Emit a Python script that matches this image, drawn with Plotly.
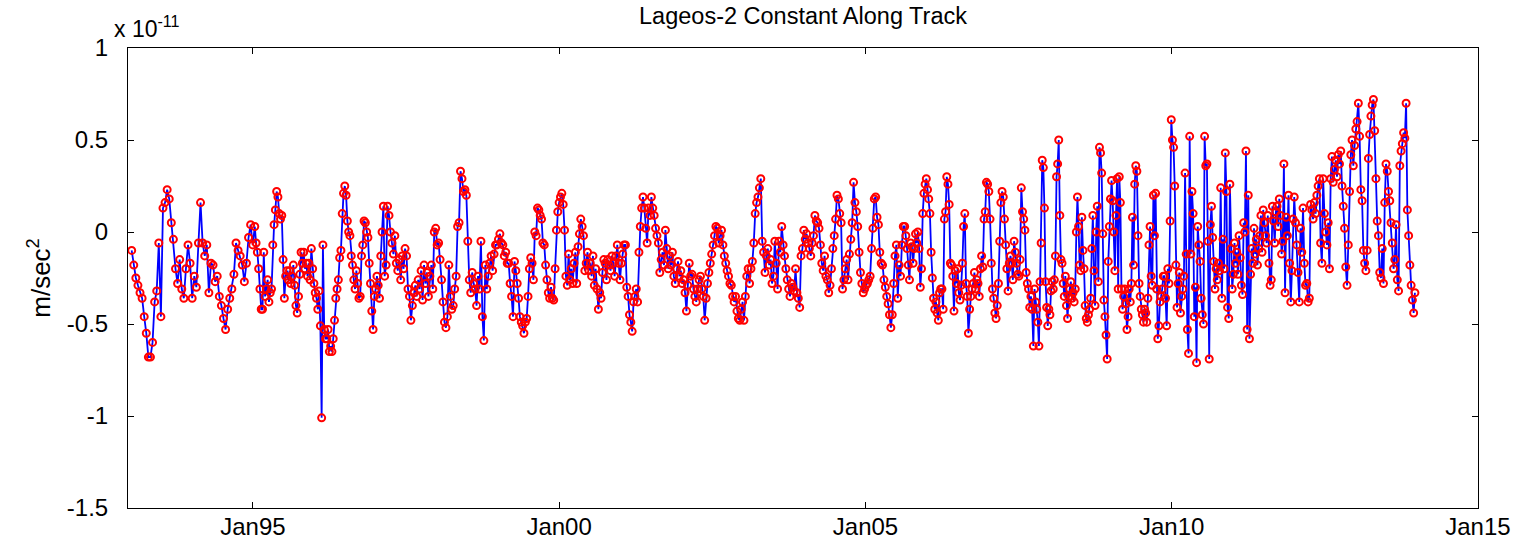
import pandas as pd
import plotly.graph_objects as go

# Segment edges (decimal years) and values (units of 1e-11 m/s^2)
segment_edges = [1993.02, 1995.03, 1997.15, 1999.27, 2001.39, 2003.52,
                 2005.64, 2007.76, 2009.88, 2012.00, 2013.97]

seg_1993 = [-0.10,-0.18,-0.25,-0.29,-0.33,-0.36,-0.46,-0.55,-0.68,-0.68,-0.60,-0.38,-0.32,-0.06,-0.46,
            0.13,0.16,0.23,
            0.18,0.05,-0.04,-0.20,-0.28,-0.15,-0.31,-0.36,-0.20,-0.07,-0.17,-0.36,-0.24,-0.30,-0.06,
            0.16,-0.06,-0.13,-0.07,-0.33,-0.17,-0.18,-0.27,-0.24,-0.35,-0.40,-0.47,-0.53,
            -0.42,-0.36,-0.31,-0.23,-0.06,-0.10,-0.13,-0.18,-0.27,-0.17,-0.03,0.04,-0.07]
seg_1995 = [0.03,-0.06,-0.11,-0.20,-0.31,-0.42,-0.42,-0.11,-0.35,-0.31,-0.26,-0.38,-0.33,-0.31,-0.07,0.04,
            0.12,0.22,0.19,0.10,0.07,0.09,-0.15,-0.36,-0.24,-0.21,-0.26,-0.21,-0.28,-0.24,-0.18,-0.29,-0.40,
            -0.44,-0.35,-0.23,-0.11,-0.17,-0.11,-0.20,-0.17,-0.24,-0.17,-0.26,-0.09,-0.20,-0.28,-0.33,-0.36,
            -0.42,-0.32,-0.51,-1.01,-0.07,-0.53,-0.58,-0.58,-0.53,-0.65,-0.62,-0.65,-0.58,-0.48,-0.36,-0.31,
            -0.26,-0.14,-0.10,0.10,0.21,0.25,0.20,0.06,0.00,-0.02,-0.13,-0.18,-0.26,-0.31,-0.21,-0.28,-0.36,
            -0.35,-0.13,-0.07,0.06,0.05,0.00,-0.03,-0.17,-0.28,-0.43,-0.53,-0.35,-0.31,-0.24,-0.29,-0.36,
            -0.13,0.00,0.14]
seg_1997 = [-0.24,-0.18,0.14,0.09,0.00,-0.06,-0.12,-0.02,-0.17,-0.21,-0.15,-0.26,-0.13,-0.20,-0.09,-0.13,
            -0.31,-0.35,-0.48,-0.40,-0.33,-0.29,-0.35,-0.26,-0.31,-0.21,-0.37,-0.18,-0.28,-0.22,-0.35,-0.24,
            -0.18,-0.31,0.00,0.02,-0.07,-0.06,-0.15,-0.26,-0.38,-0.49,-0.52,-0.46,-0.18,-0.35,-0.42,-0.40,
            -0.31,-0.24,0.03,0.05,0.33,0.29,0.22,0.23,0.20,-0.05,-0.26,-0.33,-0.22,-0.28,-0.31,-0.40,-0.24,
            -0.31,-0.05,-0.46,-0.59,-0.18,-0.31,-0.24,-0.17,-0.13,-0.21,-0.12,-0.07,-0.07,-0.04,-0.01,-0.06,
            -0.07,-0.13,-0.11,-0.17,-0.17,-0.28,-0.35,-0.46]
seg_1999 = [-0.16,-0.21,-0.28,-0.36,-0.46,-0.49,-0.51,-0.55,-0.49,-0.47,-0.35,-0.20,-0.14,-0.17,-0.26,0.00,
            -0.02,0.13,0.12,0.09,0.07,-0.06,-0.07,-0.18,-0.26,-0.33,-0.36,-0.30,-0.36,-0.37,-0.20,0.01,0.11,
            0.16,0.19,0.21,0.15,0.01,-0.24,-0.29,-0.12,-0.26,-0.20,-0.28,-0.17,-0.11,-0.28,-0.08,-0.01,0.07,
            0.03,-0.02,-0.21,-0.17,-0.11,-0.21,-0.17,-0.24,-0.13,-0.29,-0.20,-0.31,-0.42,-0.33,-0.36,-0.22,
            -0.15,-0.17,-0.26,-0.15,-0.18,-0.21,-0.13,-0.17,-0.24,-0.13,-0.07,-0.17,-0.26,-0.17,-0.12,-0.07,
            -0.07,-0.30,-0.35,-0.45,-0.49,-0.54,-0.38,-0.35,-0.31,-0.38,-0.11,0.03,0.13,0.19]
seg_2001 = [0.13,0.02,-0.06,0.13,0.09,0.19,0.13,0.09,0.02,-0.02,-0.06,-0.22,-0.15,-0.11,-0.18,0.01,-0.09,
            -0.20,-0.13,-0.18,-0.11,-0.24,-0.28,-0.20,-0.16,-0.24,-0.21,-0.28,-0.26,-0.33,-0.43,-0.29,-0.17,
            -0.24,-0.23,-0.31,-0.35,-0.38,-0.31,-0.26,-0.24,-0.31,-0.35,-0.48,-0.36,-0.28,-0.22,-0.17,-0.12,
            -0.07,-0.02,0.03,0.02,-0.06,-0.02,0.01,-0.07,-0.13,-0.17,-0.21,-0.24,-0.28,-0.29,-0.35,-0.38,
            -0.35,-0.43,-0.47,-0.48,-0.42,-0.38,-0.48,-0.35,-0.24,-0.20,-0.28,-0.20,-0.16,-0.06,0.10,0.16,
            0.19,0.24,0.29,-0.05,-0.11,-0.22,-0.13,-0.09,-0.18,-0.15,-0.28,-0.24]
seg_2003 = [-0.05,-0.17,-0.31,-0.05,-0.11,0.03,-0.07,-0.13,-0.20,-0.26,-0.31,-0.35,-0.28,-0.30,-0.32,-0.20,
            -0.33,-0.36,-0.41,-0.13,-0.09,0.01,-0.04,-0.01,-0.06,-0.09,-0.13,-0.06,-0.02,0.09,0.06,0.05,0.02,
            -0.07,-0.17,-0.21,-0.13,-0.24,-0.26,-0.33,-0.29,-0.20,-0.09,-0.02,0.07,0.20,0.18,0.10,0.05,-0.31,
            -0.26,-0.20,-0.15,-0.26,-0.12,-0.04,0.05,0.27,0.16,0.11,0.03,-0.11,-0.22,-0.28,-0.33,-0.31,-0.29,
            -0.28,-0.26,-0.24,-0.09,0.02,0.18,0.19,0.08,0.04,-0.11,-0.17,-0.18,-0.26,-0.30,-0.35,-0.39,-0.45,
            -0.52,-0.45,-0.28,-0.13,-0.07,-0.36,-0.18,-0.24,-0.07,0.03]
seg_2005 = [0.03,-0.02,-0.09,-0.18,-0.26,-0.06,-0.08,-0.17,-0.09,-0.01,-0.06,0.00,-0.09,-0.30,-0.20,0.10,
            0.21,0.26,0.29,0.23,0.18,0.10,-0.11,-0.25,-0.36,-0.42,-0.38,-0.44,-0.48,-0.33,-0.31,-0.31,-0.42,
            0.07,0.11,0.30,0.26,0.15,-0.17,-0.18,-0.24,-0.43,-0.21,-0.28,-0.20,-0.33,-0.37,-0.29,-0.17,0.03,
            0.10,-0.28,-0.35,-0.55,-0.42,-0.35,-0.31,-0.28,-0.22,-0.31,-0.26,-0.28,-0.35,-0.20,-0.13,-0.19,
            0.07,0.11,0.27,0.26,0.22,0.07,-0.17,-0.31,-0.36,-0.44,-0.47,-0.40,-0.28,-0.05,0.16,0.22,0.19,0.07,
            -0.07,-0.20,-0.32,-0.17,-0.13,-0.17,-0.26,-0.05,-0.11,-0.17,-0.23,-0.24,-0.15,0.24,0.11,0.07,0.01,
            -0.22,-0.28,-0.31,-0.41,-0.35,-0.42,-0.62]
seg_2007 = [-0.31,-0.38,-0.42,-0.49,-0.62,-0.27,-0.06,0.39,0.35,0.13,-0.27,-0.41,-0.51,-0.42,-0.45,-0.32,
            -0.27,-0.31,-0.26,-0.13,0.30,0.37,0.50,0.09,-0.15,-0.17,-0.28,-0.35,-0.24,-0.40,-0.47,-0.35,-0.31,
            -0.27,-0.36,-0.33,-0.38,-0.31,0.00,0.19,0.03,-0.18,-0.21,0.08,-0.10,-0.20,-0.40,-0.47,-0.49,-0.45,
            -0.42,-0.36,-0.09,0.09,-0.21,-0.40,0.00,0.14,-0.27,0.46,0.43,0.32,-0.01,-0.37,-0.46,-0.56,-0.69,
            -0.16,0.03,0.18,0.28,0.17,0.00,-0.21,0.09,0.29,-0.31,0.30,0.16,-0.31,-0.42,-0.35,-0.31,-0.39,-0.53,
            -0.46,-0.31,-0.38,-0.28,0.08,-0.18,0.26,0.36,0.33,-0.02,-0.28,-0.35,-0.42,-0.45,-0.49,-0.42,-0.44,
            -0.49,-0.36,-0.07,0.03,-0.24,-0.29,0.20,-0.02,0.21,-0.31,-0.58,-0.51,-0.38,-0.35,-0.31,-0.24]
seg_2009 = [-0.24,-0.36,-0.51,-0.20,-0.28,0.06,0.61,0.50,0.46,0.25,-0.18,-0.41,-0.28,-0.22,-0.44,-0.35,
            -0.31,-0.24,0.32,-0.12,-0.53,-0.66,0.52,-0.12,0.22,0.10,-0.46,-0.30,-0.71,0.03,-0.07,-0.16,-0.36,
            -0.45,-0.50,0.52,0.36,0.37,-0.05,-0.69,0.04,0.14,-0.03,-0.16,-0.31,-0.20,-0.26,-0.17,-0.21,0.24,
            -0.36,-0.04,-0.20,0.43,0.22,-0.41,-0.47,0.26,-0.09,-0.31,-0.23,-0.06,-0.17,-0.11,-0.23,-0.02,-0.14,
            -0.29,-0.34,0.05,0.00,0.44,-0.53,0.20,-0.58,-0.23,-0.09,-0.17,0.02,-0.12,-0.04,-0.18,-0.09,-0.02,
            0.09,-0.11,0.12,0.05,-0.02,-0.06,0.09,-0.17,-0.29,-0.26,0.14,0.06,-0.06,0.11,0.14,0.03,0.18,0.09,
            -0.12,-0.05,0.37,-0.33,0.08,-0.02,0.20,-0.17,-0.38,-0.21,0.07]
seg_2012 = [0.19,0.05,-0.07,-0.22,-0.38,0.02,-0.11,0.13,-0.17,-0.29,-0.28,-0.38,-0.36,0.15,0.12,0.07,0.16,
            0.10,0.20,0.25,0.29,-0.06,-0.17,0.29,0.10,0.00,-0.07,0.05,-0.20,0.29,0.41,0.27,0.34,0.39,0.30,
            0.42,0.37,0.44,0.25,0.14,0.02,-0.19,-0.29,-0.07,0.22,0.42,0.50,0.36,0.47,0.56,0.60,0.70,0.52,0.23,
            0.17,-0.10,-0.17,-0.21,-0.10,0.40,0.53,0.63,0.69,0.72,0.55,0.29,0.06,-0.02,-0.22,-0.25,-0.09,
            -0.28,0.16,0.37,0.33,0.22,0.17,0.05,-0.06,-0.20,-0.15,0.04,-0.26,-0.32,0.36,0.44,0.48,0.54,0.51,
            0.70,0.12,-0.02,-0.18,-0.29,-0.37,-0.44,-0.33]

segments = [seg_1993, seg_1995, seg_1997, seg_1999, seg_2001,
            seg_2003, seg_2005, seg_2007, seg_2009, seg_2012]

x_tick_years = [1995, 2000, 2005, 2010, 2015]
y_tick_vals = [-1.5, -1, -0.5, 0, 0.5, 1]
y_tick_text = ["-1.5", "-1", "-0.5", "0", "0.5", "1"]


def year_to_dt(y):
    return pd.Timestamp(1993, 1, 1) + pd.Timedelta(days=(y - 1993) * 365.25)


dates, values = [], []
for i, seg in enumerate(segments):
    a, b = segment_edges[i], segment_edges[i + 1]
    n = len(seg)
    last = (i == len(segments) - 1)
    step = (b - a) / ((n - 1) if last else n)
    for k, v in enumerate(seg):
        dates.append(year_to_dt(a + k * step))
        values.append(v)

FONT = "Liberation Sans, Arial, Helvetica, sans-serif"

fig = go.Figure()
fig.add_trace(go.Scatter(
    x=dates, y=values, mode="lines+markers",
    line=dict(color="#0000FF", width=1.8),
    marker=dict(symbol="circle-open", size=7, color="#FF0000", line=dict(width=2, color="#FF0000")),
    showlegend=False,
))

fig.update_layout(
    width=1528, height=543,
    margin=dict(l=128, r=50, t=48, b=35),
    paper_bgcolor="white", plot_bgcolor="white",
    font=dict(family=FONT, size=24, color="black"),
    title=dict(text="Lageos-2 Constant Along Track", x=0.5, xref="paper",
               y=1 - 16 / 543, yref="container", yanchor="middle",
               font=dict(size=23.5, family=FONT, color="black")),
    annotations=[dict(text="x 10<sup>-11</sup>", xref="paper", yref="paper",
                      x=-0.012, y=1 + 21 / 460, xanchor="left", yanchor="middle",
                      showarrow=False, font=dict(size=23, family=FONT))],
)

fig.update_xaxes(
    type="date",
    range=[year_to_dt(1992.96), year_to_dt(2015.0)],
    tickvals=[pd.Timestamp(y, 1, 1) for y in x_tick_years],
    tickformat="%b%y",
    ticks="inside", ticklen=6, tickcolor="black", tickwidth=1,
    showline=True, linecolor="black", linewidth=1, mirror="ticks",
    showgrid=False, zeroline=False, automargin=False,
    ticklabelstandoff=-3,
)
fig.update_yaxes(
    range=[-1.5, 1],
    tickvals=y_tick_vals, ticktext=y_tick_text,
    ticks="inside", ticklen=6, tickcolor="black", tickwidth=1,
    showline=True, linecolor="black", linewidth=1, mirror="ticks",
    showgrid=False, zeroline=False, automargin=False,
    ticklabelstandoff=14,
    title=dict(text="m/sec<sup>2</sup>", standoff=8, font=dict(size=26, family=FONT)),
)

fig.write_html("out.html")
